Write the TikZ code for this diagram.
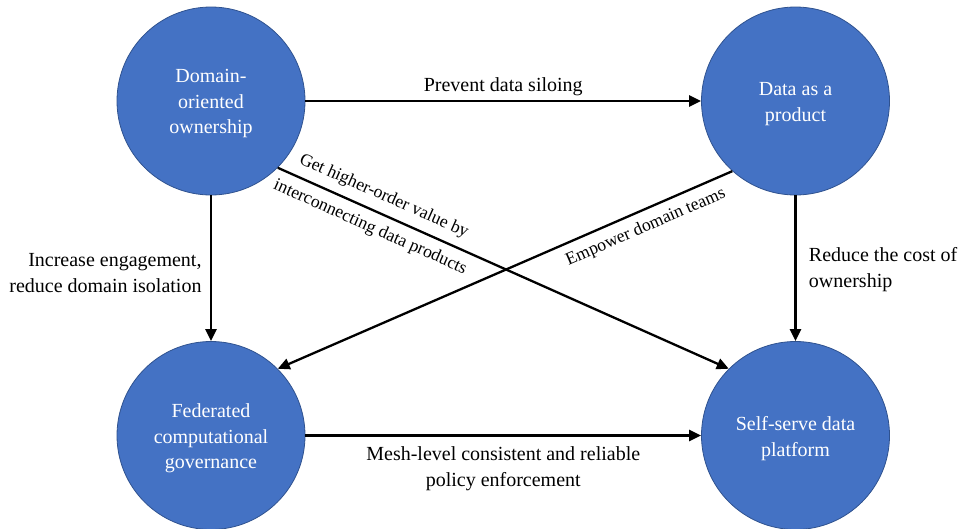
\documentclass[tikz,border=0pt]{standalone}
\usepackage{fontspec}
\setmainfont{Liberation Serif}
\usetikzlibrary{arrows.meta}

\definecolor{principle}{HTML}{4472C4}
\definecolor{principleedge}{HTML}{2F528F}

\tikzset{
  principle/.style={circle, minimum size=188pt, inner sep=0pt,
    fill=principle, draw=principleedge, line width=0.8pt},
  principletext/.style={text=white, align=center, inner sep=0pt,
    font=\fontsize{20}{25.5}\selectfont},
  link/.style={line width=2.3pt, draw=black,
    -{Triangle[length=12pt,width=11pt]}},
  linklabel/.style={font=\fontsize{20}{26}\selectfont, text=black},
  crosslabel/.style={font=\fontsize{17.7}{22}\selectfont, text=black}
}

\begin{document}
\begin{tikzpicture}[x=1pt, y=-1pt]
  \useasboundingbox (0,0) rectangle (960,528);

  % the four principles
  \node[principle] (dom)  at (211,101)     {};
  \node[principle] (prod) at (795.5,101)   {};
  \node[principle] (gov)  at (211,435.5)   {};
  \node[principle] (plat) at (795.5,435.5) {};

  \node[principletext] (dom-t)  at ([yshift=-3pt]dom.center)  {Domain-\\oriented\\ownership};
  \node[principletext] (prod-t) at ([yshift=-3pt]prod.center) {Data as a\\product};
  \node[principletext] (gov-t)  at ([yshift=-3pt]gov.center)  {Federated\\computational\\governance};
  \node[principletext] (plat-t) at ([yshift=-3pt]plat.center) {Self-serve data\\platform};

  % relations between them
  \draw[link] (dom.east) -- (prod.west)
    node[linklabel, midway, above=1pt] {Prevent data siloing};

  \draw[link] (gov.east) -- (plat.west)
    node[linklabel, midway, below=7pt, align=center]
      {Mesh-level consistent and reliable\\policy enforcement};

  \draw[link] (dom.south) -- (gov.north)
    node[linklabel, pos=0.53, left=5pt, align=right]
      {Increase engagement,\\reduce domain isolation};

  \draw[link] (prod.south) -- (plat.north)
    node[linklabel, pos=0.51, right=9pt, align=left]
      {Reduce the cost of\\ownership};

  \draw[link] (dom.-45) -- (plat.135)
    node[crosslabel, pos=0.22, sloped, above=4.5pt] {Get higher-order value by}
    node[crosslabel, pos=0.22, sloped, below=4.5pt] {interconnecting data products};

  \draw[link] (prod.-132) -- (gov.45)
    node[crosslabel, pos=0.205, sloped, below=4.5pt] {Empower domain teams};
\end{tikzpicture}
\end{document}
